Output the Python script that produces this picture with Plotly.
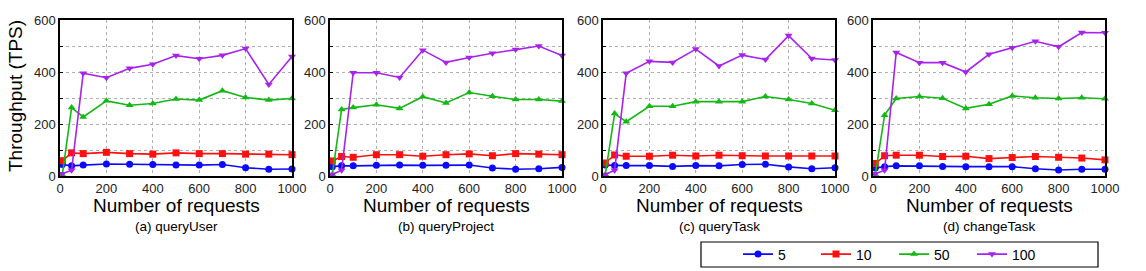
import plotly.graph_objects as go

W, H = 1146, 271

x_vals = [10, 50, 100, 200, 300, 400, 500, 600, 700, 800, 900, 1000]
series_names = ["5", "10", "50", "100"]
panel_titles = ["(a) queryUser", "(b) queryProject", "(c) queryTask", "(d) changeTask"]

# panel (a) queryUser
a_5 = [44, 39, 42, 46, 45, 44, 42, 42, 44, 32, 26, 27]
a_10 = [59, 89, 86, 91, 86, 84, 89, 86, 86, 84, 84, 82]
a_50 = [5, 263, 227, 289, 272, 279, 296, 292, 328, 302, 292, 298]
a_100 = [9, 22, 395, 378, 414, 430, 463, 451, 464, 490, 352, 460]
# panel (b) queryProject
b_5 = [36, 39, 39, 41, 42, 41, 41, 42, 31, 26, 28, 33]
b_10 = [58, 75, 72, 82, 82, 76, 82, 85, 78, 86, 84, 82]
b_50 = [6, 256, 263, 274, 260, 305, 281, 321, 307, 294, 294, 288]
b_100 = [6, 22, 397, 397, 379, 484, 437, 456, 472, 487, 500, 463]
# panel (c) queryTask
c_5 = [42, 40, 40, 40, 37, 40, 39, 44, 45, 35, 28, 32]
c_10 = [50, 81, 76, 76, 80, 77, 80, 78, 77, 77, 77, 77]
c_50 = [6, 240, 209, 268, 268, 286, 286, 286, 306, 294, 279, 253]
c_100 = [6, 22, 395, 441, 437, 488, 423, 465, 448, 540, 452, 446]
# panel (d) changeTask
d_5 = [31, 36, 39, 39, 37, 36, 36, 36, 28, 23, 26, 26]
d_10 = [48, 78, 80, 80, 75, 76, 67, 71, 75, 72, 69, 62]
d_50 = [6, 234, 298, 306, 299, 260, 276, 308, 301, 298, 301, 297]
d_100 = [9, 22, 475, 436, 436, 400, 468, 493, 518, 497, 552, 551]

panels = [
    [a_5, a_10, a_50, a_100],
    [b_5, b_10, b_50, b_100],
    [c_5, c_10, c_50, c_100],
    [d_5, d_10, d_50, d_100],
]

colors = ["#0a0aff", "#ff1010", "#14b814", "#a822ee"]
symbols = ["circle", "square", "triangle-up", "triangle-down"]

# pixel layout of panels
px_left = [60, 330, 603, 873]
px_width = 232
px_top, px_bottom = 20, 176

FONT = "Liberation Sans, Arial, Helvetica, sans-serif"

fig = go.Figure()
layout_axes = {}
annotations = []

for p in range(4):
    xa = "x" if p == 0 else f"x{p+1}"
    ya = "y" if p == 0 else f"y{p+1}"
    for s in range(4):
        fig.add_trace(go.Scatter(
            x=x_vals, y=panels[p][s], mode="lines+markers",
            name=series_names[s], legendgroup=series_names[s],
            showlegend=(p == 0),
            line=dict(color=colors[s], width=1.6),
            marker=dict(symbol=symbols[s], size=7, color=colors[s]),
            cliponaxis=False,
            xaxis=xa, yaxis=ya,
        ))
    x0 = px_left[p] / W
    x1 = (px_left[p] + px_width) / W
    y0 = 1 - px_bottom / H
    y1 = 1 - px_top / H
    xkey = "xaxis" if p == 0 else f"xaxis{p+1}"
    ykey = "yaxis" if p == 0 else f"yaxis{p+1}"
    layout_axes[xkey] = dict(
        domain=[x0, x1], anchor=ya, range=[0, 1000],
        tickvals=[0, 200, 400, 600, 800, 1000],
        showgrid=True, gridcolor="#b0b0b0", griddash="dot", gridwidth=1,
        showline=True, mirror=True, linecolor="black", linewidth=1.5,
        ticks="", zeroline=False, automargin=False,
        tickfont=dict(family=FONT, size=13, color="#222"),
    )
    layout_axes[ykey] = dict(
        domain=[y0, y1], anchor=xa, range=[0, 600],
        tickvals=[0, 200, 400, 600],
        showgrid=True, gridcolor="#b0b0b0", griddash="dot", gridwidth=1,
        minor=dict(dtick=100, tick0=0, showgrid=True, gridcolor="#b0b0b0",
                   griddash="dot", ticks="inside", ticklen=3, tickcolor="black"),
        showline=True, mirror=True, linecolor="black", linewidth=1.5,
        ticks="inside", ticklen=3, tickcolor="black", zeroline=False, automargin=False,
        tickfont=dict(family=FONT, size=13, color="#222"),
    )
    cx = (px_left[p] + px_width / 2) / W
    annotations.append(dict(
        text="Number of requests", x=cx, y=1 - 205 / H, xref="paper", yref="paper",
        showarrow=False, xanchor="center", yanchor="middle",
        font=dict(family=FONT, size=19, color="black"),
    ))
    annotations.append(dict(
        text=panel_titles[p], x=cx, y=1 - 226 / H, xref="paper", yref="paper",
        showarrow=False, xanchor="center", yanchor="middle",
        font=dict(family=FONT, size=13.5, color="black"),
    ))

annotations.append(dict(
    text="Throughput (TPS)", x=15 / W, y=1 - 96 / H, xref="paper", yref="paper",
    showarrow=False, xanchor="center", yanchor="middle", textangle=-90,
    font=dict(family=FONT, size=19, color="black"),
))

fig.update_layout(
    width=W, height=H,
    margin=dict(l=0, r=0, t=0, b=0, autoexpand=False),
    paper_bgcolor="white", plot_bgcolor="white",
    annotations=annotations,
    shapes=[dict(type="rect", xref="paper", yref="paper",
                 x0=701 / W, x1=1098 / W, y0=1 - 267 / H, y1=1 - 242 / H,
                 line=dict(color="black", width=1.2), fillcolor="rgba(0,0,0,0)")],
    legend=dict(orientation="h", x=738 / W, y=1 - 254.5 / H, xanchor="left", yanchor="middle",
                font=dict(family=FONT, size=14, color="black"),
                bgcolor="rgba(0,0,0,0)", borderwidth=0,
                entrywidth=33, entrywidthmode="pixels", itemwidth=30),
    **layout_axes,
)

fig.write_html("out.html", config={"displayModeBar": False},
               post_script="document.body.style.margin='0';document.body.style.overflow='hidden';")
